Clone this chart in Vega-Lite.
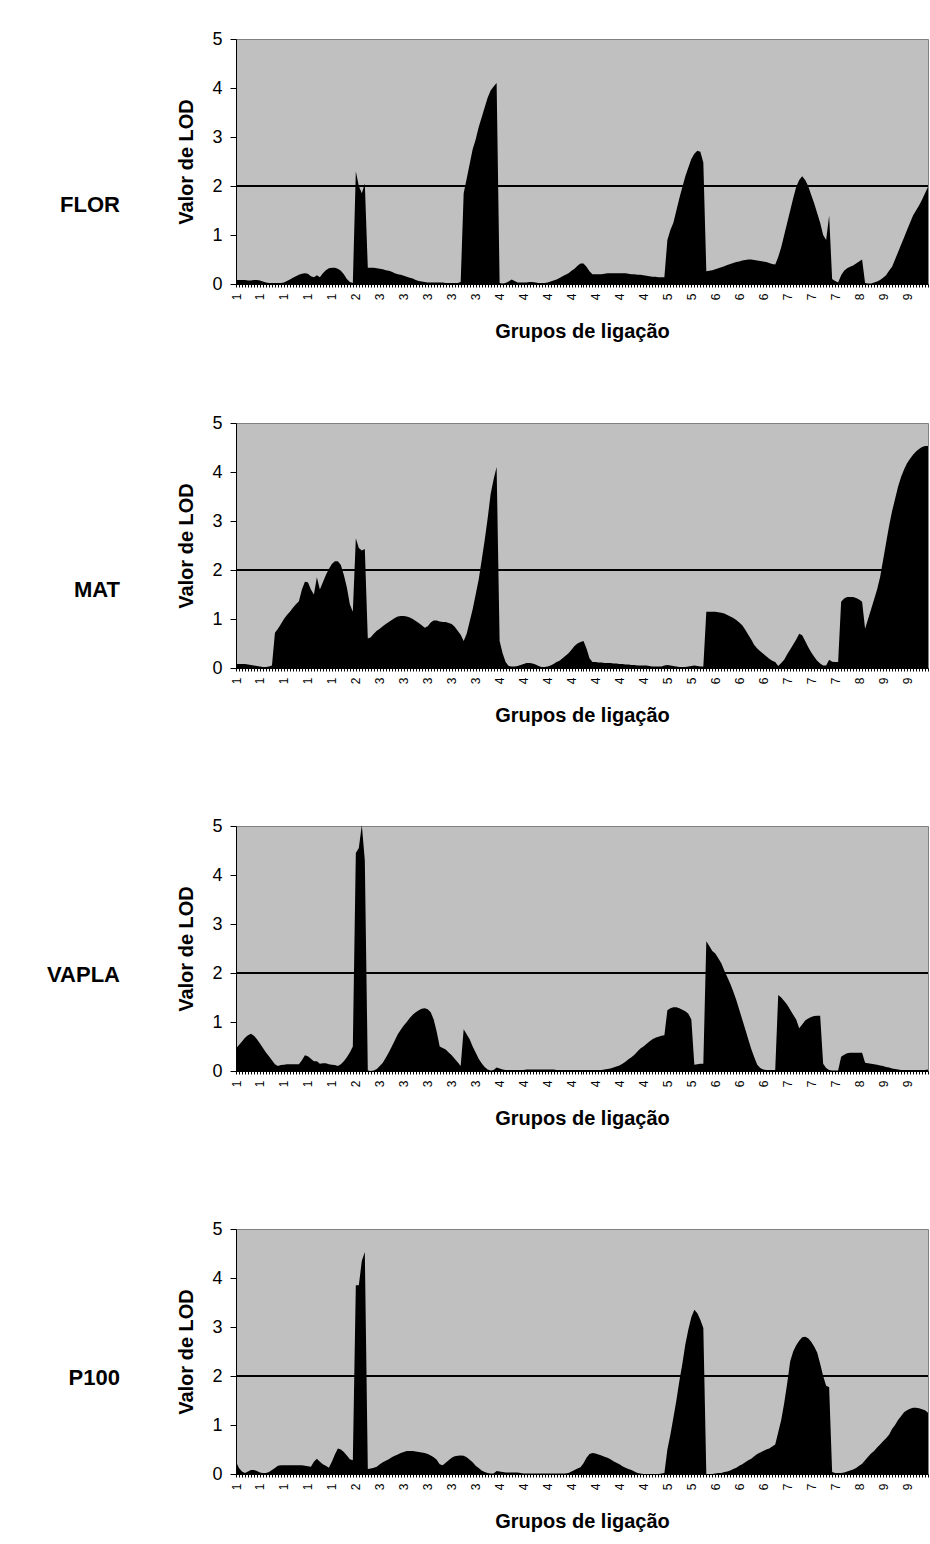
{
  "$schema": "https://vega.github.io/schema/vega-lite/v6.json",
  "padding": {"left": 46, "top": 29, "right": 0, "bottom": 0},
  "datasets": {
    "lod": [
      {"id":"1-000","FLOR":0.08,"MAT":0.08,"VAPLA":0.46,"P100":0.25},
      {"id":"1-001","FLOR":0.08,"MAT":0.08,"VAPLA":0.53,"P100":0.12},
      {"id":"1-002","FLOR":0.08,"MAT":0.08,"VAPLA":0.6,"P100":0.05},
      {"id":"1-003","FLOR":0.08,"MAT":0.08,"VAPLA":0.68,"P100":0.02},
      {"id":"1-004","FLOR":0.07,"MAT":0.07,"VAPLA":0.73,"P100":0.05},
      {"id":"1-005","FLOR":0.07,"MAT":0.06,"VAPLA":0.76,"P100":0.08},
      {"id":"1-006","FLOR":0.08,"MAT":0.05,"VAPLA":0.72,"P100":0.08},
      {"id":"1-007","FLOR":0.08,"MAT":0.04,"VAPLA":0.65,"P100":0.06},
      {"id":"1-008","FLOR":0.07,"MAT":0.03,"VAPLA":0.56,"P100":0.03},
      {"id":"1-009","FLOR":0.05,"MAT":0.02,"VAPLA":0.47,"P100":0.02},
      {"id":"1-010","FLOR":0.03,"MAT":0.02,"VAPLA":0.38,"P100":0.02},
      {"id":"1-011","FLOR":0.02,"MAT":0.03,"VAPLA":0.3,"P100":0.04},
      {"id":"1-012","FLOR":0.02,"MAT":0.05,"VAPLA":0.22,"P100":0.08},
      {"id":"1-013","FLOR":0.02,"MAT":0.72,"VAPLA":0.14,"P100":0.12},
      {"id":"1-014","FLOR":0.02,"MAT":0.8,"VAPLA":0.1,"P100":0.17},
      {"id":"1-015","FLOR":0.02,"MAT":0.9,"VAPLA":0.12,"P100":0.18},
      {"id":"1-016","FLOR":0.03,"MAT":1.0,"VAPLA":0.13,"P100":0.18},
      {"id":"1-017","FLOR":0.06,"MAT":1.08,"VAPLA":0.14,"P100":0.18},
      {"id":"1-018","FLOR":0.09,"MAT":1.15,"VAPLA":0.14,"P100":0.18},
      {"id":"1-019","FLOR":0.13,"MAT":1.23,"VAPLA":0.14,"P100":0.18},
      {"id":"1-020","FLOR":0.16,"MAT":1.3,"VAPLA":0.14,"P100":0.18},
      {"id":"1-021","FLOR":0.19,"MAT":1.36,"VAPLA":0.14,"P100":0.18},
      {"id":"1-022","FLOR":0.21,"MAT":1.6,"VAPLA":0.22,"P100":0.18},
      {"id":"1-023","FLOR":0.22,"MAT":1.76,"VAPLA":0.32,"P100":0.17},
      {"id":"1-024","FLOR":0.21,"MAT":1.75,"VAPLA":0.3,"P100":0.16},
      {"id":"1-025","FLOR":0.16,"MAT":1.6,"VAPLA":0.25,"P100":0.15},
      {"id":"1-026","FLOR":0.14,"MAT":1.5,"VAPLA":0.2,"P100":0.25},
      {"id":"1-027","FLOR":0.18,"MAT":1.85,"VAPLA":0.2,"P100":0.31},
      {"id":"1-028","FLOR":0.14,"MAT":1.6,"VAPLA":0.15,"P100":0.25},
      {"id":"1-029","FLOR":0.22,"MAT":1.75,"VAPLA":0.16,"P100":0.2},
      {"id":"1-030","FLOR":0.28,"MAT":1.9,"VAPLA":0.16,"P100":0.17},
      {"id":"1-031","FLOR":0.32,"MAT":2.02,"VAPLA":0.14,"P100":0.13},
      {"id":"1-032","FLOR":0.33,"MAT":2.12,"VAPLA":0.13,"P100":0.25},
      {"id":"1-033","FLOR":0.33,"MAT":2.18,"VAPLA":0.12,"P100":0.4},
      {"id":"1-034","FLOR":0.31,"MAT":2.18,"VAPLA":0.1,"P100":0.52},
      {"id":"1-035","FLOR":0.27,"MAT":2.1,"VAPLA":0.14,"P100":0.5},
      {"id":"1-036","FLOR":0.2,"MAT":1.9,"VAPLA":0.2,"P100":0.45},
      {"id":"1-037","FLOR":0.1,"MAT":1.65,"VAPLA":0.28,"P100":0.38},
      {"id":"1-038","FLOR":0.04,"MAT":1.3,"VAPLA":0.38,"P100":0.3},
      {"id":"1-039","FLOR":0.02,"MAT":1.15,"VAPLA":0.5,"P100":0.28},
      {"id":"2-040","FLOR":2.3,"MAT":2.65,"VAPLA":4.45,"P100":3.85},
      {"id":"2-041","FLOR":2.0,"MAT":2.45,"VAPLA":4.55,"P100":3.85},
      {"id":"2-042","FLOR":1.85,"MAT":2.4,"VAPLA":5.02,"P100":4.35},
      {"id":"2-043","FLOR":2.05,"MAT":2.43,"VAPLA":4.3,"P100":4.53},
      {"id":"3-044","FLOR":0.33,"MAT":0.6,"VAPLA":0.01,"P100":0.1},
      {"id":"3-045","FLOR":0.33,"MAT":0.63,"VAPLA":0.0,"P100":0.11},
      {"id":"3-046","FLOR":0.33,"MAT":0.7,"VAPLA":0.01,"P100":0.13},
      {"id":"3-047","FLOR":0.32,"MAT":0.76,"VAPLA":0.04,"P100":0.15},
      {"id":"3-048","FLOR":0.31,"MAT":0.8,"VAPLA":0.1,"P100":0.2},
      {"id":"3-049","FLOR":0.3,"MAT":0.85,"VAPLA":0.17,"P100":0.24},
      {"id":"3-050","FLOR":0.28,"MAT":0.9,"VAPLA":0.27,"P100":0.27},
      {"id":"3-051","FLOR":0.27,"MAT":0.94,"VAPLA":0.38,"P100":0.3},
      {"id":"3-052","FLOR":0.25,"MAT":0.98,"VAPLA":0.5,"P100":0.34},
      {"id":"3-053","FLOR":0.22,"MAT":1.02,"VAPLA":0.62,"P100":0.37},
      {"id":"3-054","FLOR":0.2,"MAT":1.05,"VAPLA":0.75,"P100":0.4},
      {"id":"3-055","FLOR":0.19,"MAT":1.06,"VAPLA":0.84,"P100":0.43},
      {"id":"3-056","FLOR":0.17,"MAT":1.06,"VAPLA":0.93,"P100":0.45},
      {"id":"3-057","FLOR":0.15,"MAT":1.05,"VAPLA":1.0,"P100":0.47},
      {"id":"3-058","FLOR":0.13,"MAT":1.03,"VAPLA":1.08,"P100":0.47},
      {"id":"3-059","FLOR":0.11,"MAT":1.0,"VAPLA":1.15,"P100":0.47},
      {"id":"3-060","FLOR":0.08,"MAT":0.96,"VAPLA":1.2,"P100":0.46},
      {"id":"3-061","FLOR":0.06,"MAT":0.92,"VAPLA":1.24,"P100":0.45},
      {"id":"3-062","FLOR":0.05,"MAT":0.87,"VAPLA":1.27,"P100":0.44},
      {"id":"3-063","FLOR":0.04,"MAT":0.82,"VAPLA":1.28,"P100":0.43},
      {"id":"3-064","FLOR":0.03,"MAT":0.85,"VAPLA":1.26,"P100":0.41},
      {"id":"3-065","FLOR":0.03,"MAT":0.93,"VAPLA":1.2,"P100":0.38},
      {"id":"3-066","FLOR":0.03,"MAT":0.97,"VAPLA":1.05,"P100":0.34},
      {"id":"3-067","FLOR":0.03,"MAT":0.97,"VAPLA":0.8,"P100":0.29},
      {"id":"3-068","FLOR":0.03,"MAT":0.95,"VAPLA":0.5,"P100":0.2},
      {"id":"3-069","FLOR":0.03,"MAT":0.94,"VAPLA":0.47,"P100":0.18},
      {"id":"3-070","FLOR":0.02,"MAT":0.94,"VAPLA":0.44,"P100":0.23},
      {"id":"3-071","FLOR":0.02,"MAT":0.92,"VAPLA":0.38,"P100":0.28},
      {"id":"3-072","FLOR":0.02,"MAT":0.9,"VAPLA":0.32,"P100":0.33},
      {"id":"3-073","FLOR":0.02,"MAT":0.84,"VAPLA":0.25,"P100":0.36},
      {"id":"3-074","FLOR":0.02,"MAT":0.76,"VAPLA":0.18,"P100":0.37},
      {"id":"3-075","FLOR":0.04,"MAT":0.68,"VAPLA":0.1,"P100":0.38},
      {"id":"3-076","FLOR":1.85,"MAT":0.55,"VAPLA":0.85,"P100":0.37},
      {"id":"3-077","FLOR":2.15,"MAT":0.7,"VAPLA":0.75,"P100":0.34},
      {"id":"3-078","FLOR":2.45,"MAT":0.95,"VAPLA":0.65,"P100":0.29},
      {"id":"3-079","FLOR":2.75,"MAT":1.2,"VAPLA":0.5,"P100":0.24},
      {"id":"3-080","FLOR":2.95,"MAT":1.5,"VAPLA":0.38,"P100":0.17},
      {"id":"3-081","FLOR":3.2,"MAT":1.8,"VAPLA":0.25,"P100":0.12},
      {"id":"3-082","FLOR":3.4,"MAT":2.2,"VAPLA":0.16,"P100":0.07},
      {"id":"3-083","FLOR":3.6,"MAT":2.6,"VAPLA":0.08,"P100":0.04},
      {"id":"3-084","FLOR":3.8,"MAT":3.05,"VAPLA":0.03,"P100":0.02},
      {"id":"3-085","FLOR":3.95,"MAT":3.55,"VAPLA":0.01,"P100":0.01},
      {"id":"3-086","FLOR":4.03,"MAT":3.85,"VAPLA":0.02,"P100":0.01},
      {"id":"3-087","FLOR":4.1,"MAT":4.1,"VAPLA":0.07,"P100":0.06},
      {"id":"4-088","FLOR":0.02,"MAT":0.55,"VAPLA":0.05,"P100":0.05},
      {"id":"4-089","FLOR":0.01,"MAT":0.3,"VAPLA":0.03,"P100":0.04},
      {"id":"4-090","FLOR":0.02,"MAT":0.12,"VAPLA":0.02,"P100":0.03},
      {"id":"4-091","FLOR":0.05,"MAT":0.04,"VAPLA":0.02,"P100":0.03},
      {"id":"4-092","FLOR":0.09,"MAT":0.03,"VAPLA":0.02,"P100":0.03},
      {"id":"4-093","FLOR":0.06,"MAT":0.03,"VAPLA":0.02,"P100":0.03},
      {"id":"4-094","FLOR":0.03,"MAT":0.04,"VAPLA":0.02,"P100":0.03},
      {"id":"4-095","FLOR":0.03,"MAT":0.06,"VAPLA":0.02,"P100":0.02},
      {"id":"4-096","FLOR":0.03,"MAT":0.08,"VAPLA":0.02,"P100":0.01},
      {"id":"4-097","FLOR":0.03,"MAT":0.1,"VAPLA":0.03,"P100":0.01},
      {"id":"4-098","FLOR":0.04,"MAT":0.1,"VAPLA":0.03,"P100":0.01},
      {"id":"4-099","FLOR":0.04,"MAT":0.09,"VAPLA":0.03,"P100":0.01},
      {"id":"4-100","FLOR":0.03,"MAT":0.07,"VAPLA":0.03,"P100":0.01},
      {"id":"4-101","FLOR":0.02,"MAT":0.04,"VAPLA":0.03,"P100":0.01},
      {"id":"4-102","FLOR":0.02,"MAT":0.02,"VAPLA":0.03,"P100":0.01},
      {"id":"4-103","FLOR":0.02,"MAT":0.02,"VAPLA":0.03,"P100":0.01},
      {"id":"4-104","FLOR":0.03,"MAT":0.03,"VAPLA":0.03,"P100":0.01},
      {"id":"4-105","FLOR":0.05,"MAT":0.05,"VAPLA":0.03,"P100":0.01},
      {"id":"4-106","FLOR":0.07,"MAT":0.08,"VAPLA":0.03,"P100":0.01},
      {"id":"4-107","FLOR":0.09,"MAT":0.12,"VAPLA":0.02,"P100":0.01},
      {"id":"4-108","FLOR":0.12,"MAT":0.15,"VAPLA":0.02,"P100":0.01},
      {"id":"4-109","FLOR":0.16,"MAT":0.2,"VAPLA":0.02,"P100":0.01},
      {"id":"4-110","FLOR":0.19,"MAT":0.25,"VAPLA":0.02,"P100":0.01},
      {"id":"4-111","FLOR":0.22,"MAT":0.3,"VAPLA":0.02,"P100":0.02},
      {"id":"4-112","FLOR":0.27,"MAT":0.37,"VAPLA":0.02,"P100":0.05},
      {"id":"4-113","FLOR":0.31,"MAT":0.45,"VAPLA":0.02,"P100":0.08},
      {"id":"4-114","FLOR":0.37,"MAT":0.5,"VAPLA":0.02,"P100":0.11},
      {"id":"4-115","FLOR":0.42,"MAT":0.53,"VAPLA":0.02,"P100":0.14},
      {"id":"4-116","FLOR":0.42,"MAT":0.55,"VAPLA":0.02,"P100":0.22},
      {"id":"4-117","FLOR":0.35,"MAT":0.4,"VAPLA":0.02,"P100":0.33},
      {"id":"4-118","FLOR":0.26,"MAT":0.2,"VAPLA":0.02,"P100":0.41},
      {"id":"4-119","FLOR":0.2,"MAT":0.12,"VAPLA":0.02,"P100":0.43},
      {"id":"4-120","FLOR":0.2,"MAT":0.12,"VAPLA":0.02,"P100":0.42},
      {"id":"4-121","FLOR":0.2,"MAT":0.11,"VAPLA":0.02,"P100":0.4},
      {"id":"4-122","FLOR":0.2,"MAT":0.11,"VAPLA":0.02,"P100":0.38},
      {"id":"4-123","FLOR":0.21,"MAT":0.1,"VAPLA":0.03,"P100":0.35},
      {"id":"4-124","FLOR":0.22,"MAT":0.1,"VAPLA":0.04,"P100":0.33},
      {"id":"4-125","FLOR":0.22,"MAT":0.1,"VAPLA":0.05,"P100":0.3},
      {"id":"4-126","FLOR":0.22,"MAT":0.09,"VAPLA":0.07,"P100":0.26},
      {"id":"4-127","FLOR":0.22,"MAT":0.09,"VAPLA":0.09,"P100":0.23},
      {"id":"4-128","FLOR":0.22,"MAT":0.08,"VAPLA":0.11,"P100":0.2},
      {"id":"4-129","FLOR":0.22,"MAT":0.08,"VAPLA":0.15,"P100":0.16},
      {"id":"4-130","FLOR":0.22,"MAT":0.07,"VAPLA":0.19,"P100":0.13},
      {"id":"4-131","FLOR":0.21,"MAT":0.07,"VAPLA":0.24,"P100":0.1},
      {"id":"4-132","FLOR":0.2,"MAT":0.06,"VAPLA":0.28,"P100":0.08},
      {"id":"4-133","FLOR":0.2,"MAT":0.06,"VAPLA":0.33,"P100":0.05},
      {"id":"4-134","FLOR":0.19,"MAT":0.05,"VAPLA":0.4,"P100":0.02},
      {"id":"4-135","FLOR":0.19,"MAT":0.05,"VAPLA":0.46,"P100":0.01},
      {"id":"4-136","FLOR":0.18,"MAT":0.05,"VAPLA":0.5,"P100":0.0},
      {"id":"4-137","FLOR":0.17,"MAT":0.05,"VAPLA":0.55,"P100":0.0},
      {"id":"4-138","FLOR":0.16,"MAT":0.04,"VAPLA":0.6,"P100":0.0},
      {"id":"4-139","FLOR":0.15,"MAT":0.03,"VAPLA":0.65,"P100":0.0},
      {"id":"4-140","FLOR":0.15,"MAT":0.03,"VAPLA":0.68,"P100":0.0},
      {"id":"4-141","FLOR":0.14,"MAT":0.03,"VAPLA":0.7,"P100":0.0},
      {"id":"4-142","FLOR":0.14,"MAT":0.03,"VAPLA":0.72,"P100":0.01},
      {"id":"4-143","FLOR":0.14,"MAT":0.05,"VAPLA":0.73,"P100":0.02},
      {"id":"5-144","FLOR":0.9,"MAT":0.06,"VAPLA":1.24,"P100":0.5},
      {"id":"5-145","FLOR":1.1,"MAT":0.05,"VAPLA":1.28,"P100":0.8},
      {"id":"5-146","FLOR":1.25,"MAT":0.04,"VAPLA":1.3,"P100":1.15},
      {"id":"5-147","FLOR":1.5,"MAT":0.03,"VAPLA":1.3,"P100":1.5},
      {"id":"5-148","FLOR":1.75,"MAT":0.02,"VAPLA":1.28,"P100":1.9},
      {"id":"5-149","FLOR":1.98,"MAT":0.02,"VAPLA":1.25,"P100":2.25},
      {"id":"5-150","FLOR":2.2,"MAT":0.02,"VAPLA":1.22,"P100":2.65},
      {"id":"5-151","FLOR":2.38,"MAT":0.03,"VAPLA":1.17,"P100":2.95},
      {"id":"5-152","FLOR":2.55,"MAT":0.04,"VAPLA":1.05,"P100":3.2},
      {"id":"5-153","FLOR":2.66,"MAT":0.05,"VAPLA":0.13,"P100":3.35},
      {"id":"5-154","FLOR":2.72,"MAT":0.04,"VAPLA":0.14,"P100":3.28},
      {"id":"5-155","FLOR":2.7,"MAT":0.03,"VAPLA":0.15,"P100":3.15},
      {"id":"5-156","FLOR":2.48,"MAT":0.03,"VAPLA":0.15,"P100":2.98},
      {"id":"6-157","FLOR":0.26,"MAT":1.15,"VAPLA":2.65,"P100":0.0},
      {"id":"6-158","FLOR":0.27,"MAT":1.15,"VAPLA":2.55,"P100":0.0},
      {"id":"6-159","FLOR":0.28,"MAT":1.15,"VAPLA":2.45,"P100":0.0},
      {"id":"6-160","FLOR":0.3,"MAT":1.15,"VAPLA":2.4,"P100":0.01},
      {"id":"6-161","FLOR":0.32,"MAT":1.14,"VAPLA":2.3,"P100":0.02},
      {"id":"6-162","FLOR":0.34,"MAT":1.13,"VAPLA":2.2,"P100":0.02},
      {"id":"6-163","FLOR":0.36,"MAT":1.11,"VAPLA":2.05,"P100":0.04},
      {"id":"6-164","FLOR":0.39,"MAT":1.08,"VAPLA":1.92,"P100":0.05},
      {"id":"6-165","FLOR":0.41,"MAT":1.05,"VAPLA":1.78,"P100":0.07},
      {"id":"6-166","FLOR":0.43,"MAT":1.02,"VAPLA":1.62,"P100":0.1},
      {"id":"6-167","FLOR":0.45,"MAT":0.98,"VAPLA":1.45,"P100":0.13},
      {"id":"6-168","FLOR":0.46,"MAT":0.93,"VAPLA":1.25,"P100":0.17},
      {"id":"6-169","FLOR":0.48,"MAT":0.87,"VAPLA":1.05,"P100":0.2},
      {"id":"6-170","FLOR":0.49,"MAT":0.78,"VAPLA":0.85,"P100":0.24},
      {"id":"6-171","FLOR":0.5,"MAT":0.68,"VAPLA":0.65,"P100":0.28},
      {"id":"6-172","FLOR":0.5,"MAT":0.58,"VAPLA":0.45,"P100":0.31},
      {"id":"6-173","FLOR":0.49,"MAT":0.47,"VAPLA":0.28,"P100":0.36},
      {"id":"6-174","FLOR":0.48,"MAT":0.4,"VAPLA":0.13,"P100":0.41},
      {"id":"6-175","FLOR":0.47,"MAT":0.34,"VAPLA":0.06,"P100":0.44},
      {"id":"6-176","FLOR":0.46,"MAT":0.29,"VAPLA":0.03,"P100":0.47},
      {"id":"6-177","FLOR":0.45,"MAT":0.24,"VAPLA":0.02,"P100":0.5},
      {"id":"6-178","FLOR":0.43,"MAT":0.19,"VAPLA":0.02,"P100":0.52},
      {"id":"6-179","FLOR":0.41,"MAT":0.15,"VAPLA":0.02,"P100":0.56},
      {"id":"6-180","FLOR":0.4,"MAT":0.12,"VAPLA":0.02,"P100":0.6},
      {"id":"7-181","FLOR":0.55,"MAT":0.04,"VAPLA":1.55,"P100":0.85},
      {"id":"7-182","FLOR":0.75,"MAT":0.1,"VAPLA":1.5,"P100":1.1},
      {"id":"7-183","FLOR":1.0,"MAT":0.17,"VAPLA":1.43,"P100":1.45},
      {"id":"7-184","FLOR":1.25,"MAT":0.28,"VAPLA":1.35,"P100":1.85},
      {"id":"7-185","FLOR":1.5,"MAT":0.38,"VAPLA":1.25,"P100":2.3},
      {"id":"7-186","FLOR":1.75,"MAT":0.48,"VAPLA":1.15,"P100":2.5},
      {"id":"7-187","FLOR":1.98,"MAT":0.58,"VAPLA":1.05,"P100":2.63},
      {"id":"7-188","FLOR":2.12,"MAT":0.7,"VAPLA":0.87,"P100":2.72},
      {"id":"7-189","FLOR":2.2,"MAT":0.67,"VAPLA":0.95,"P100":2.79},
      {"id":"7-190","FLOR":2.12,"MAT":0.55,"VAPLA":1.03,"P100":2.8},
      {"id":"7-191","FLOR":2.0,"MAT":0.43,"VAPLA":1.07,"P100":2.77},
      {"id":"7-192","FLOR":1.82,"MAT":0.32,"VAPLA":1.1,"P100":2.7},
      {"id":"7-193","FLOR":1.65,"MAT":0.23,"VAPLA":1.12,"P100":2.6},
      {"id":"7-194","FLOR":1.45,"MAT":0.15,"VAPLA":1.13,"P100":2.48},
      {"id":"7-195","FLOR":1.25,"MAT":0.09,"VAPLA":1.13,"P100":2.25},
      {"id":"7-196","FLOR":1.0,"MAT":0.05,"VAPLA":0.15,"P100":2.0},
      {"id":"7-197","FLOR":0.9,"MAT":0.05,"VAPLA":0.06,"P100":1.8},
      {"id":"7-198","FLOR":1.4,"MAT":0.17,"VAPLA":0.02,"P100":1.77},
      {"id":"7-199","FLOR":0.1,"MAT":0.13,"VAPLA":0.01,"P100":0.04},
      {"id":"7-200","FLOR":0.06,"MAT":0.12,"VAPLA":0.01,"P100":0.02},
      {"id":"7-201","FLOR":0.03,"MAT":0.12,"VAPLA":0.01,"P100":0.02},
      {"id":"8-202","FLOR":0.18,"MAT":1.35,"VAPLA":0.29,"P100":0.02},
      {"id":"8-203","FLOR":0.27,"MAT":1.42,"VAPLA":0.33,"P100":0.03},
      {"id":"8-204","FLOR":0.32,"MAT":1.45,"VAPLA":0.36,"P100":0.05},
      {"id":"8-205","FLOR":0.35,"MAT":1.45,"VAPLA":0.37,"P100":0.07},
      {"id":"8-206","FLOR":0.38,"MAT":1.45,"VAPLA":0.37,"P100":0.09},
      {"id":"8-207","FLOR":0.42,"MAT":1.43,"VAPLA":0.37,"P100":0.12},
      {"id":"8-208","FLOR":0.46,"MAT":1.4,"VAPLA":0.37,"P100":0.17},
      {"id":"8-209","FLOR":0.5,"MAT":1.35,"VAPLA":0.37,"P100":0.21},
      {"id":"9-210","FLOR":0.02,"MAT":0.8,"VAPLA":0.17,"P100":0.28},
      {"id":"9-211","FLOR":0.01,"MAT":1.0,"VAPLA":0.16,"P100":0.35},
      {"id":"9-212","FLOR":0.01,"MAT":1.2,"VAPLA":0.15,"P100":0.42},
      {"id":"9-213","FLOR":0.03,"MAT":1.4,"VAPLA":0.14,"P100":0.47},
      {"id":"9-214","FLOR":0.05,"MAT":1.6,"VAPLA":0.13,"P100":0.54},
      {"id":"9-215","FLOR":0.08,"MAT":1.85,"VAPLA":0.11,"P100":0.6},
      {"id":"9-216","FLOR":0.13,"MAT":2.2,"VAPLA":0.1,"P100":0.67},
      {"id":"9-217","FLOR":0.18,"MAT":2.55,"VAPLA":0.08,"P100":0.73},
      {"id":"9-218","FLOR":0.27,"MAT":2.9,"VAPLA":0.07,"P100":0.8},
      {"id":"9-219","FLOR":0.35,"MAT":3.2,"VAPLA":0.05,"P100":0.92},
      {"id":"9-220","FLOR":0.5,"MAT":3.45,"VAPLA":0.04,"P100":1.0},
      {"id":"9-221","FLOR":0.65,"MAT":3.7,"VAPLA":0.03,"P100":1.1},
      {"id":"9-222","FLOR":0.8,"MAT":3.9,"VAPLA":0.02,"P100":1.18},
      {"id":"9-223","FLOR":0.95,"MAT":4.05,"VAPLA":0.02,"P100":1.26},
      {"id":"9-224","FLOR":1.1,"MAT":4.18,"VAPLA":0.02,"P100":1.3},
      {"id":"9-225","FLOR":1.25,"MAT":4.27,"VAPLA":0.02,"P100":1.33},
      {"id":"9-226","FLOR":1.4,"MAT":4.35,"VAPLA":0.02,"P100":1.35},
      {"id":"9-227","FLOR":1.5,"MAT":4.42,"VAPLA":0.02,"P100":1.35},
      {"id":"9-228","FLOR":1.6,"MAT":4.47,"VAPLA":0.02,"P100":1.34},
      {"id":"9-229","FLOR":1.72,"MAT":4.51,"VAPLA":0.02,"P100":1.32},
      {"id":"9-230","FLOR":1.85,"MAT":4.53,"VAPLA":0.02,"P100":1.3},
      {"id":"9-231","FLOR":1.98,"MAT":4.53,"VAPLA":0.03,"P100":1.25}
    ]
  },
  "bounds": "flush",
  "spacing": 139,
  "vconcat": [
    {
      "width": 692, "height": 245,
      "data": {"name": "lod"},
      "title": {"text": "FLOR", "dy": 33, "align": "left"},
      "layer": [
        {"mark": {"type": "area", "color": "black", "opacity": 1},
         "encoding": {
           "x": {"field": "id", "type": "ordinal", "sort": "ascending", "scale": {"type": "point", "padding": 0}, "title": "Grupos de ligação",
                 "axis": {"labelExpr": "toNumber(substring(datum.value, 2)) % 8 === 0 ? substring(datum.value, 0, 1) : ''", "labelAngle": -90, "labelOverlap": false}},
           "y": {"field": "FLOR", "type": "quantitative", "scale": {"domain": [0, 5], "nice": false}, "title": "Valor de LOD", "axis": {"values": [0, 1, 2, 3, 4, 5]}}
         }},
        {"data": {"values": [{}]}, "mark": {"type": "rule", "color": "black", "strokeWidth": 2}, "encoding": {"y": {"datum": 2}}}
      ]
    },
    {
      "bounds": "flush",
      "spacing": 158,
      "vconcat": [
        {
          "width": 692, "height": 245,
          "data": {"name": "lod"},
          "title": {"text": "MAT", "dy": 34, "align": "left"},
          "layer": [
            {"mark": {"type": "area", "color": "black", "opacity": 1},
             "encoding": {
               "x": {"field": "id", "type": "ordinal", "sort": "ascending", "scale": {"type": "point", "padding": 0}, "title": "Grupos de ligação",
                     "axis": {"labelExpr": "toNumber(substring(datum.value, 2)) % 8 === 0 ? substring(datum.value, 0, 1) : ''", "labelAngle": -90, "labelOverlap": false}},
               "y": {"field": "MAT", "type": "quantitative", "scale": {"domain": [0, 5], "nice": false}, "title": "Valor de LOD", "axis": {"values": [0, 1, 2, 3, 4, 5]}}
             }},
            {"data": {"values": [{}]}, "mark": {"type": "rule", "color": "black", "strokeWidth": 2}, "encoding": {"y": {"datum": 2}}}
          ]
        },
        {
          "width": 692, "height": 245,
          "data": {"name": "lod"},
          "title": {"text": "VAPLA", "dy": 16, "align": "left"},
          "layer": [
            {"mark": {"type": "area", "color": "black", "opacity": 1},
             "encoding": {
               "x": {"field": "id", "type": "ordinal", "sort": "ascending", "scale": {"type": "point", "padding": 0}, "title": "Grupos de ligação",
                     "axis": {"labelExpr": "toNumber(substring(datum.value, 2)) % 8 === 0 ? substring(datum.value, 0, 1) : ''", "labelAngle": -90, "labelOverlap": false}},
               "y": {"field": "VAPLA", "type": "quantitative", "scale": {"domain": [0, 5], "nice": false}, "title": "Valor de LOD", "axis": {"values": [0, 1, 2, 3, 4, 5]}}
             }},
            {"data": {"values": [{}]}, "mark": {"type": "rule", "color": "black", "strokeWidth": 2}, "encoding": {"y": {"datum": 2}}}
          ]
        },
        {
          "width": 692, "height": 245,
          "data": {"name": "lod"},
          "title": {"text": "P100", "dy": 16, "align": "left"},
          "layer": [
            {"mark": {"type": "area", "color": "black", "opacity": 1},
             "encoding": {
               "x": {"field": "id", "type": "ordinal", "sort": "ascending", "scale": {"type": "point", "padding": 0}, "title": "Grupos de ligação",
                     "axis": {"labelExpr": "toNumber(substring(datum.value, 2)) % 8 === 0 ? substring(datum.value, 0, 1) : ''", "labelAngle": -90, "labelOverlap": false}},
               "y": {"field": "P100", "type": "quantitative", "scale": {"domain": [0, 5], "nice": false}, "title": "Valor de LOD", "axis": {"values": [0, 1, 2, 3, 4, 5]}}
             }},
            {"data": {"values": [{}]}, "mark": {"type": "rule", "color": "black", "strokeWidth": 2}, "encoding": {"y": {"datum": 2}}}
          ]
        }
      ]
    }
  ],
  "config": {
    "font": "Liberation Sans",
    "view": {"fill": "#c0c0c0", "stroke": "#808080", "strokeWidth": 1},
    "axis": {"domainColor": "black", "tickColor": "black", "labelColor": "black", "titleColor": "black", "grid": false, "labelFont": "Liberation Sans", "titleFont": "Liberation Sans", "titleFontWeight": "bold", "titleFontSize": 20},
    "axisX": {"labelFontSize": 12, "tickSize": 3, "labelPadding": 6, "titlePadding": 22},
    "axisY": {"labelFontSize": 18, "tickSize": 6, "labelPadding": 8, "titlePadding": 15},
    "title": {"orient": "left", "angle": 0, "anchor": "middle", "frame": "group", "baseline": "middle", "offset": 57, "fontSize": 22, "fontWeight": "bold", "color": "black", "font": "Liberation Sans"}
  }
}
